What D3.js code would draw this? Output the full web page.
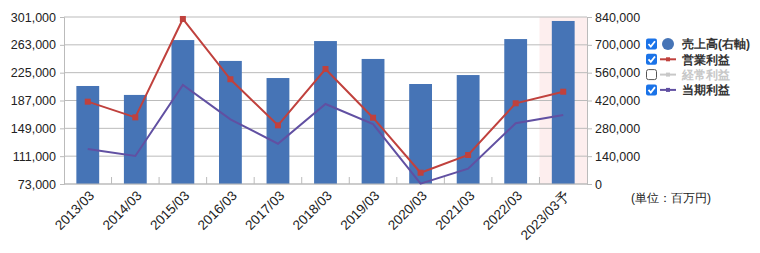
<!DOCTYPE html>
<html>
<head>
<meta charset="utf-8">
<script src="https://cdn.jsdelivr.net/npm/d3@7"></script>
<style>
  body { margin: 0; background: #fff; }
  text { font-family: "Liberation Sans", Arial, sans-serif; fill: #222; }
</style>
</head>
<body>
<svg width="760" height="253"></svg>
<script>
// categories and series (百万円)
var years = ["2013/03", "2014/03", "2015/03", "2016/03", "2017/03", "2018/03",
             "2019/03", "2020/03", "2021/03", "2022/03", "2023/03予"];
var sales = [493000, 448000, 724000, 619000, 533000, 719000, 629000, 503000, 548000, 729000, 820000];
var opProfit = [185400, 164000, 298300, 216000, 153100, 230000, 163500, 88400, 112600, 183200, 199000];
var netProfit = [120800, 111200, 208200, 161300, 128000, 182200, 154900, 73500, 93900, 155900, 167200];
var leftTicks = [73000, 111000, 149000, 187000, 225000, 263000, 301000];
var rightTicks = [0, 140000, 280000, 420000, 560000, 700000, 840000];
var legendItems = [
  {name: "売上高(右軸)", color: "#4674b6", type: "circle", on: true},
  {name: "営業利益", color: "#c0413d", type: "line", on: true},
  {name: "経常利益", color: "#c8c8c8", type: "line", on: false},
  {name: "当期利益", color: "#6150a2", type: "line", on: true}
];

var svg = d3.select("svg"),
    pLeft = 64, pRight = 587, pTop = 17, pBottom = 184;

var x = d3.scaleBand().domain(years).range([pLeft, pRight]);
var yL = d3.scaleLinear().domain([73000, 301000]).range([pBottom, pTop]);
var yR = d3.scaleLinear().domain([0, 840000]).range([pBottom, pTop]);
var fmt = d3.format(",");

// forecast highlight
svg.append("rect")
   .attr("x", x(years[years.length - 1])).attr("y", pTop)
   .attr("width", x.bandwidth()).attr("height", pBottom - pTop)
   .attr("fill", "#fdeeee");

// gridlines
svg.selectAll(".grid").data(leftTicks).enter().append("line")
   .attr("x1", pLeft).attr("x2", pRight)
   .attr("y1", function(d) { return yL(d); }).attr("y2", function(d) { return yL(d); })
   .attr("stroke", "#bbb");

// bars
svg.selectAll(".bar").data(sales).enter().append("rect")
   .attr("x", function(d, i) { return x(years[i]) + x.bandwidth() * 0.26; })
   .attr("width", x.bandwidth() * 0.48)
   .attr("y", function(d) { return yR(d); })
   .attr("height", function(d) { return pBottom - yR(d); })
   .attr("fill", "#4674b6");

// left axis
var gl = svg.append("g").attr("transform", "translate(" + pLeft + ",0)")
   .call(d3.axisLeft(yL).tickValues(leftTicks).tickFormat(fmt).tickSize(4).tickPadding(4));
// right axis
var gr = svg.append("g").attr("transform", "translate(" + pRight + ",0)")
   .call(d3.axisRight(yR).tickValues(rightTicks).tickFormat(fmt).tickSize(5).tickPadding(3));
[gl, gr].forEach(function(g) {
  g.select(".domain").attr("stroke", "#bbb");
  g.selectAll(".tick line").attr("stroke", "#bbb");
  g.selectAll("text").style("font-size", "12.5px").attr("fill", "#222");
});

// bottom axis line + upward ticks at band boundaries
svg.append("line").attr("x1", pLeft).attr("x2", pRight).attr("y1", pBottom).attr("y2", pBottom)
   .attr("stroke", "#bbb");
svg.selectAll(".xtick").data(years.slice(1)).enter().append("line")
   .attr("x1", function(d) { return x(d); }).attr("x2", function(d) { return x(d); })
   .attr("y1", pBottom - 7).attr("y2", pBottom)
   .attr("stroke", "#bbb");

// x labels
svg.selectAll(".xlab").data(years).enter().append("text")
   .attr("transform", function(d) {
     return "translate(" + (x(d) + x.bandwidth() / 2 + 4) + "," + (pBottom + 9) + ") rotate(-45)";
   })
   .attr("text-anchor", "end")
   .attr("dy", "0.35em")
   .style("font-size", "13.5px")
   .text(function(d) { return d; });

// lines
var cx = function(i) { return x(years[i]) + x.bandwidth() / 2; };
var line = d3.line().x(function(d, i) { return cx(i); }).y(function(d) { return yL(d); });

svg.append("path").datum(opProfit).attr("d", line)
   .attr("fill", "none").attr("stroke", "#c0413d").attr("stroke-width", 2);
svg.selectAll(".opm").data(opProfit).enter().append("rect")
   .attr("x", function(d, i) { return cx(i) - 3; })
   .attr("y", function(d) { return yL(d) - 3; })
   .attr("width", 6).attr("height", 6)
   .attr("fill", "#c0413d");

svg.append("path").datum(netProfit).attr("d", line)
   .attr("fill", "none").attr("stroke", "#6150a2").attr("stroke-width", 2);

// legend
var lg = svg.append("g");
legendItems.forEach(function(d, i) {
  var yy = 44 + i * 15.3;
  var cb = lg.append("g");
  if (d.on) {
    cb.append("rect").attr("x", 646).attr("y", yy - 5.5).attr("width", 11).attr("height", 11)
      .attr("rx", 2).attr("fill", "#1a73e8");
    cb.append("path").attr("d", "M648.5," + yy + " L650.8," + (yy + 2.6) + " L655," + (yy - 2.8))
      .attr("fill", "none").attr("stroke", "#fff").attr("stroke-width", 1.8);
  } else {
    cb.append("rect").attr("x", 646.5).attr("y", yy - 5).attr("width", 10).attr("height", 10)
      .attr("rx", 2).attr("fill", "#fff").attr("stroke", "#555");
  }
  if (d.type === "circle") {
    lg.append("circle").attr("cx", 668).attr("cy", yy).attr("r", 6).attr("fill", d.color);
  } else {
    lg.append("line").attr("x1", 660).attr("x2", 676).attr("y1", yy).attr("y2", yy)
      .attr("stroke", d.color).attr("stroke-width", 2);
    lg.append("rect").attr("x", 666).attr("y", yy - 2).attr("width", 4).attr("height", 4)
      .attr("fill", d.color);
  }
  lg.append("text").attr("x", 682).attr("y", yy).attr("dy", "0.36em")
    .style("font-size", "12px").style("font-weight", "bold")
    .style("fill", d.on ? "#333" : "#c8c8c8")
    .text(d.name);
});

svg.append("text").attr("x", 631).attr("y", 198).attr("dy", "0.35em")
   .style("font-size", "12px").text("(単位：百万円)");
</script>
</body>
</html>
